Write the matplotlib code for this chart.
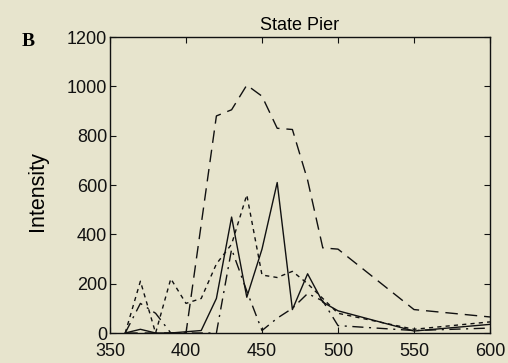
import matplotlib.pyplot as plt

# wavelength (nm) and intensity readings for each trace
wl = [360, 370, 380, 390, 400, 410, 420, 430, 440, 450, 460, 470, 480, 490, 500, 550, 600]
solid = [0, 15, 0, 0, 5, 10, 140, 470, 145, 340, 610, 95, 240, 125, 90, 8, 35]
long_dash = [0, 0, 0, 0, 0, 440, 880, 905, 1005, 960, 830, 825, 620, 345, 340, 95, 65]
dotted = [0, 210, 0, 220, 120, 140, 280, 360, 560, 235, 225, 250, 200, 140, 80, 15, 45]
dash_dot = [0, 120, 80, 0, 0, 0, 0, 340, 170, 10, 60, 100, 160, 130, 30, 10, 20]

bg = "#e7e4cd"
plt.rcParams["font.family"] = ["Liberation Sans", "DejaVu Sans"]

fig = plt.figure(figsize=(5.08, 3.63), dpi=100, facecolor=bg)
ax = fig.add_axes([110 / 508, 30 / 363, 380 / 508, 296 / 363], facecolor=bg)

ax.plot(wl, solid, color="#111111", lw=1.0, linestyle="-")
ax.plot(wl, long_dash, color="#111111", lw=1.0, linestyle=(0, (9, 5)))
ax.plot(wl, dotted, color="#111111", lw=1.0, linestyle=(0, (3, 3)))
ax.plot(wl, dash_dot, color="#111111", lw=1.0, linestyle=(0, (8, 4, 1.5, 4)))

ax.set_xlim(350, 600)
ax.set_ylim(0, 1200)
ax.set_xticks([350, 400, 450, 500, 550, 600])
ax.set_yticks([0, 200, 400, 600, 800, 1000, 1200])
ax.tick_params(direction="in", top=True, right=True, length=4, width=0.8,
               labelsize=13, pad=2, colors="#111111")
ax.tick_params(axis="x", pad=7)
for s in ax.spines.values():
    s.set_linewidth(1.0)
    s.set_color("#111111")

ax.set_title("State Pier", fontsize=13, pad=5)
ax.set_ylabel("Intensity", fontsize=15.5)
ax.yaxis.set_label_coords(-0.163, 0.48)
fig.text(22 / 508, 1 - 41 / 363, "B", family="Liberation Serif", fontsize=14,
         fontweight="bold", va="center", ha="left")

fig.savefig("out.png", dpi=100, facecolor=bg)
